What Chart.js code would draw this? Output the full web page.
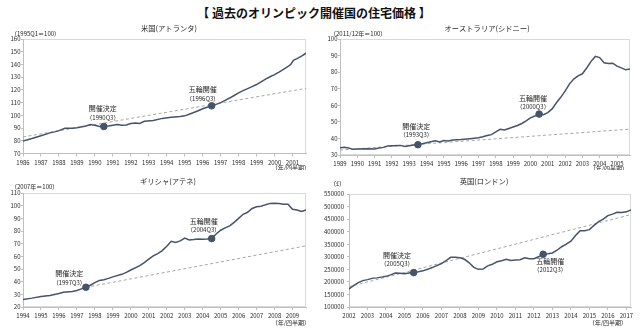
<!DOCTYPE html>
<html lang="ja">
<head>
<meta charset="UTF-8">
<title>過去のオリンピック開催国の住宅価格</title>
<script src="https://cdn.jsdelivr.net/npm/chart.js"></script>
<style>
  body { margin: 0; background: #fff; width: 640px; height: 329px; position: relative; overflow: hidden;
         font-family: "Noto Sans CJK JP", sans-serif; }
  .title { position: absolute; left: 0; top: 4px; width: 628px; text-align: center;
           font-size: 12px; font-weight: bold; color: #111; line-height: 17px; }
  canvas { position: absolute; }
</style>
</head>
<body>
<div class="title">【 過去のオリンピック開催国の住宅価格 】</div>
<canvas id="usChart" width="320" height="150" style="left:0;top:20px"></canvas>
<canvas id="auChart" width="320" height="150" style="left:320px;top:20px"></canvas>
<canvas id="grChart" width="320" height="154" style="left:0;top:175px"></canvas>
<canvas id="ukChart" width="320" height="154" style="left:320px;top:175px"></canvas>

<script>
// 米国（アトランタ） 1995Q1=100
const usYears = [1986.0, 1986.5, 1987.0, 1987.5, 1987.75, 1988.0, 1988.33, 1988.75, 1989.0, 1989.5,
  1989.75, 1990.0, 1990.25, 1990.5, 1990.75, 1991.25, 1991.5, 1991.75, 1992.0, 1992.25,
  1992.5, 1992.75, 1993.25, 1993.75, 1994.25, 1994.75, 1995.0, 1995.25, 1995.5, 1995.75,
  1996.0, 1996.25, 1996.5, 1996.75, 1997.0, 1997.25, 1997.5, 1997.75, 1998.0, 1998.25,
  1998.5, 1998.75, 1999.0, 1999.25, 1999.5, 1999.75, 2000.0, 2000.25, 2000.5, 2000.75,
  2000.9, 2001.05, 2001.25, 2001.5, 2001.75];
const usIndex = [79.8, 81.8, 84.0, 86.2, 87.0, 88.0, 89.8, 89.8, 90.2, 91.6,
  92.7, 92.2, 91.3, 91.2, 91.6, 92.7, 92.2, 92.4, 93.6, 94.0,
  93.6, 95.3, 96.0, 97.6, 98.5, 99.0, 99.6, 100.8, 102.2, 103.6,
  105.2, 106.4, 107.5, 108.6, 110.0, 111.8, 113.6, 115.6, 117.6, 119.4,
  121.0, 122.6, 124.2, 126.3, 128.4, 130.3, 132.0, 134.0, 136.2, 138.4,
  140.0, 143.2, 144.6, 146.6, 148.8];
const usTicks = [1986, 1987, 1988, 1989, 1990, 1991, 1992, 1993, 1994, 1995, 1996, 1997, 1998, 1999, 2000, 2001];
const usTrendYears = [1986, 2001.75];
const usTrendValues = [83.0, 121.2];
const usEventYears = [1990.5, 1996.5];
const usEventValues = [91.2, 107.5];
const usEventLabels = [['開催決定', '（1990Q3）'], ['五輪開催', '（1996Q3）']];

// オーストラリア（シドニー） 2011/12年=100
const auYears = [1989.0, 1989.25, 1989.5, 1989.75, 1990.0, 1990.5, 1991.0, 1991.25, 1991.5, 1991.75,
  1992.0, 1992.5, 1992.75, 1993.0, 1993.25, 1993.5, 1993.75, 1994.0, 1994.25, 1994.5,
  1994.75, 1995.0, 1995.25, 1995.5, 1996.0, 1996.5, 1997.0, 1997.25, 1997.5, 1997.75,
  1998.0, 1998.25, 1998.5, 1998.75, 1999.0, 1999.25, 1999.5, 1999.75, 2000.0, 2000.25,
  2000.5, 2000.75, 2001.0, 2001.25, 2001.5, 2001.75, 2002.0, 2002.25, 2002.5, 2002.75,
  2003.0, 2003.25, 2003.5, 2003.75, 2004.0, 2004.25, 2004.5, 2004.75, 2005.0, 2005.25,
  2005.5, 2005.75];
const auIndex = [34.4, 34.6, 34.2, 33.4, 33.6, 33.8, 33.6, 34.2, 34.6, 35.4,
  35.6, 35.8, 35.2, 35.6, 36.0, 36.2, 36.8, 37.4, 38.0, 38.6,
  37.8, 38.7, 38.4, 39.0, 39.3, 39.8, 40.4, 41.0, 41.8, 42.3,
  44.0, 45.5, 45.1, 46.0, 46.9, 47.8, 49.0, 50.6, 52.4, 53.5,
  54.7, 54.3, 55.6, 57.8, 61.5, 64.8, 68.5, 72.8, 75.8, 77.8,
  79.0, 82.5, 86.5, 89.5, 88.8, 85.7, 85.2, 85.4, 83.6, 82.6,
  81.4, 81.9];
const auTicks = [1989, 1990, 1991, 1992, 1993, 1994, 1995, 1996, 1997, 1998, 1999, 2000, 2001, 2002, 2003, 2004, 2005];
const auTrendYears = [1989, 2005.75];
const auTrendValues = [33.0, 45.6];
const auEventYears = [1993.5, 2000.5];
const auEventValues = [36.2, 54.7];
const auEventLabels = [['開催決定', '（1993Q3）'], ['五輪開催', '（2000Q3）']];

// ギリシャ（アテネ） 2007年=100
const grYears = [1994.0, 1994.5, 1995.0, 1995.5, 1996.0, 1996.25, 1996.75, 1997.0, 1997.25, 1997.5,
  1997.75, 1998.0, 1998.25, 1998.5, 1998.75, 1999.0, 1999.5, 1999.75, 2000.0, 2000.5,
  2000.75, 2001.0, 2001.25, 2001.5, 2001.75, 2002.0, 2002.25, 2002.5, 2002.75, 2003.0,
  2003.25, 2003.5, 2003.75, 2004.0, 2004.25, 2004.5, 2004.75, 2005.0, 2005.25, 2005.5,
  2005.75, 2006.0, 2006.25, 2006.5, 2006.75, 2007.0, 2007.25, 2007.5, 2007.75, 2008.0,
  2008.25, 2008.5, 2008.75, 2009.0, 2009.25, 2009.5, 2009.75];
const grIndex = [26.0, 27.0, 28.2, 29.0, 30.6, 31.6, 32.2, 33.0, 34.3, 35.5,
  37.2, 39.2, 41.0, 41.5, 42.6, 43.8, 45.8, 47.3, 49.2, 52.6,
  55.0, 57.8, 60.4, 62.2, 64.5, 68.0, 71.9, 71.0, 72.2, 74.4,
  72.9, 73.2, 73.7, 73.4, 73.6, 74.0, 77.6, 80.6, 82.5, 84.0,
  86.8, 90.0, 93.2, 94.8, 97.8, 99.2, 99.6, 100.8, 101.8, 101.9,
  101.8, 101.2, 101.2, 97.2, 96.6, 95.4, 96.6];
const grTicks = [1994, 1995, 1996, 1997, 1998, 1999, 2000, 2001, 2002, 2003, 2004, 2005, 2006, 2007, 2008, 2009];
const grTrendYears = [1997.5, 2009.75];
const grTrendValues = [35.5, 68.3];
const grEventYears = [1997.5, 2004.5];
const grEventValues = [35.6, 74.0];
const grEventLabels = [['開催決定', '（1997Q3）'], ['五輪開催', '（2004Q3）']];

// 英国（ロンドン） £
const ukYears = [2002.0, 2002.25, 2002.5, 2002.75, 2003.0, 2003.25, 2003.5, 2003.75, 2004.0, 2004.25,
  2004.5, 2004.75, 2005.0, 2005.25, 2005.5, 2005.75, 2006.0, 2006.25, 2006.5, 2006.75,
  2007.0, 2007.25, 2007.5, 2007.75, 2008.0, 2008.25, 2008.5, 2008.75, 2009.0, 2009.25,
  2009.5, 2009.75, 2010.0, 2010.25, 2010.5, 2010.75, 2011.0, 2011.25, 2011.5, 2011.75,
  2012.0, 2012.25, 2012.5, 2012.75, 2013.0, 2013.25, 2013.5, 2013.75, 2014.0, 2014.25,
  2014.5, 2014.75, 2015.0, 2015.25, 2015.5, 2015.75, 2016.0, 2016.25, 2016.5, 2016.75,
  2017.0, 2017.25];
const ukPrice = [172000, 185000, 197000, 205000, 209000, 214000, 216000, 219000, 222000, 228000,
  235000, 234000, 232000, 235000, 238000, 240000, 244000, 250000, 257000, 265000,
  273000, 285000, 298000, 298000, 296000, 290000, 276000, 258000, 250000, 251000,
  264000, 270000, 280000, 284000, 290000, 285000, 287000, 288000, 296000, 292000,
  292000, 300000, 311000, 312000, 315000, 326000, 340000, 350000, 362000, 385000,
  404000, 404000, 408000, 425000, 440000, 450000, 464000, 470000, 477000, 476000,
  479000, 487000];
const ukTicks = [2002, 2003, 2004, 2005, 2006, 2007, 2008, 2009, 2010, 2011, 2012, 2013, 2014, 2015, 2016, 2017];
const ukTrendYears = [2002, 2017.25];
const ukTrendValues = [181000, 468000];
const ukEventYears = [2005.5, 2012.5];
const ukEventValues = [237000, 310000];
const ukEventLabels = [['開催決定', '（2005Q3）'], ['五輪開催', '（2012Q3）']];

const FONT = "'Noto Sans CJK JP', 'Noto Sans', sans-serif";
const LINE = '#44546a';
const TREND = '#a6a6a6';
const AXIS = '#bfbfbf';
const FRAME = '#d9d9d9';
const TEXT = '#262626';

Chart.defaults.font.family = FONT;
Chart.defaults.color = '#2b2b2b';

const toPoints = (xs, ys) => xs.map((x, i) => ({ x: x, y: ys[i] }));

// frame around the plot area plus titles, unit labels and event captions
const panelText = {
  id: 'panelText',
  beforeDraw(chart) {
    const a = chart.chartArea;
    const ctx = chart.ctx;
    ctx.save();
    ctx.strokeStyle = FRAME;
    ctx.lineWidth = 1;
    const l = Math.round(a.left) + 0.5, t = Math.round(a.top) + 0.5;
    const r = Math.round(a.right) - 0.5, b = Math.round(a.bottom) - 0.5;
    ctx.strokeRect(l, t, r - l, b - t);
    ctx.restore();
  },
  afterDraw(chart, args, o) {
    const ctx = chart.ctx;
    ctx.save();
    ctx.fillStyle = TEXT;
    ctx.textBaseline = 'middle';

    ctx.font = '7.3px ' + FONT;
    ctx.textAlign = 'center';
    ctx.fillText(o.title, o.titleX, o.titleY);

    ctx.font = '6px ' + FONT;
    ctx.textAlign = 'left';
    ctx.fillText(o.unit, o.unitX, o.unitY);
    ctx.textAlign = 'right';
    ctx.fillText('（年/四半期）', o.suffixX, o.suffixY);

    const xs = chart.scales.x, ys = chart.scales.y;
    ctx.textAlign = 'center';
    o.eventYears.forEach((yr, i) => {
      const px = xs.getPixelForValue(yr) + o.captionDx[i];
      const py = ys.getPixelForValue(o.eventValues[i]);
      ctx.font = '7px ' + FONT;
      ctx.fillText(o.eventLabels[i][0], px, py + o.captionDy[i][0]);
      ctx.font = '6px ' + FONT;
      ctx.fillText(o.eventLabels[i][1], px, py + o.captionDy[i][1]);
    });
    ctx.restore();
  }
};

function buildPanel(id, p) {
  new Chart(document.getElementById(id), {
    type: 'line',
    data: {
      datasets: [
        {
          data: toPoints(p.eventYears, p.eventValues),
          showLine: false,
          pointRadius: 3.3,
          pointBackgroundColor: LINE,
          pointBorderColor: LINE,
          borderColor: LINE
        },
        {
          data: toPoints(p.years, p.values),
          borderColor: LINE,
          borderWidth: 1.5,
          pointRadius: 0,
          tension: 0
        },
        {
          data: toPoints(p.trendYears, p.trendValues),
          borderColor: TREND,
          borderWidth: 1,
          borderDash: [3, 2.5],
          pointRadius: 0
        }
      ]
    },
    options: {
      responsive: false,
      animation: false,
      layout: { autoPadding: false, padding: { top: p.padTop, right: p.padRight, left: 0, bottom: 0 } },
      plugins: {
        legend: { display: false },
        tooltip: { enabled: false },
        panelText: {
          title: p.title, titleX: p.titleX, titleY: p.titleY,
          unit: p.unit, unitX: p.unitX, unitY: p.unitY,
          suffixX: p.suffixX, suffixY: p.suffixY,
          eventYears: p.eventYears, eventValues: p.eventValues, eventLabels: p.eventLabels,
          captionDx: p.captionDx, captionDy: p.captionDy
        }
      },
      scales: {
        x: {
          type: 'linear',
          min: p.xMin,
          max: p.xMax,
          afterFit: s => { s.height = p.xHeight; },
          afterBuildTicks: s => { s.ticks = p.ticks.map(v => ({ value: v })); },
          ticks: { callback: v => String(v), font: { size: 6 }, padding: 2.5, maxRotation: 0, autoSkip: false },
          grid: { drawOnChartArea: false, tickLength: 3, color: AXIS },
          border: { color: AXIS }
        },
        y: {
          min: p.yMin,
          max: p.yMax,
          afterFit: s => { s.width = p.yWidth; },
          ticks: { stepSize: p.yStep, callback: v => String(v), font: { size: 6 }, padding: p.yPad },
          grid: { drawOnChartArea: false, tickLength: 2, color: AXIS },
          border: { color: AXIS }
        }
      }
    },
    plugins: [panelText]
  });
}

buildPanel('usChart', {
  years: usYears, values: usIndex, ticks: usTicks,
  trendYears: usTrendYears, trendValues: usTrendValues,
  eventYears: usEventYears, eventValues: usEventValues, eventLabels: usEventLabels,
  captionDx: [-1, -9], captionDy: [[-18.3, -8.7], [-16.7, -7]],
  xMin: 1986, xMax: 2001.75, yMin: 70, yMax: 160, yStep: 10,
  padTop: 19, padRight: 14, yWidth: 23, xHeight: 16.5, yPad: 0.5,
  title: '米国(アトランタ)', titleX: 169, titleY: 8.5,
  unit: '（1995Q1＝100）', unitX: 11, unitY: 13.3,
  suffixX: 310, suffixY: 148
});

buildPanel('auChart', {
  years: auYears, values: auIndex, ticks: auTicks,
  trendYears: auTrendYears, trendValues: auTrendValues,
  eventYears: auEventYears, eventValues: auEventValues, eventLabels: auEventLabels,
  captionDx: [-1.6, -6], captionDy: [[-18.7, -9.7], [-16, -7.6]],
  xMin: 1989, xMax: 2005.75, yMin: 30, yMax: 100, yStep: 10,
  padTop: 19, padRight: 10, yWidth: 20, xHeight: 15, yPad: 0.5,
  title: 'オーストラリア(シドニー)', titleX: 167, titleY: 8.7,
  unit: '（2011/12年＝100）', unitX: 10, unitY: 13.3,
  suffixX: 308, suffixY: 149
});

buildPanel('grChart', {
  years: grYears, values: grIndex, ticks: grTicks,
  trendYears: grTrendYears, trendValues: grTrendValues,
  eventYears: grEventYears, eventValues: grEventValues, eventLabels: grEventLabels,
  captionDx: [-16.7, -8], captionDy: [[-14.3, -4.7], [-17.6, -9]],
  xMin: 1994, xMax: 2009.75, yMin: 20, yMax: 110, yStep: 10,
  padTop: 18, padRight: 14, yWidth: 23, xHeight: 22, yPad: 0.5,
  title: 'ギリシャ(アテネ)', titleX: 168, titleY: 6.7,
  unit: '（2007年＝100）', unitX: 11, unitY: 11.7,
  suffixX: 310, suffixY: 147.3
});

buildPanel('ukChart', {
  years: ukYears, values: ukPrice, ticks: ukTicks,
  trendYears: ukTrendYears, trendValues: ukTrendValues,
  eventYears: ukEventYears, eventValues: ukEventValues, eventLabels: ukEventLabels,
  captionDx: [-16.7, 7], captionDy: [[-17.7, -8.7], [7, 15.6]],
  xMin: 2002, xMax: 2017.25, yMin: 100000, yMax: 550000, yStep: 50000,
  padTop: 19, padRight: 9, yWidth: 29, xHeight: 22, yPad: 3,
  title: '英国(ロンドン)', titleX: 164, titleY: 6.7,
  unit: '（£）', unitX: 10, unitY: 8.3,
  suffixX: 307, suffixY: 147.7
});
</script>
</body>
</html>
